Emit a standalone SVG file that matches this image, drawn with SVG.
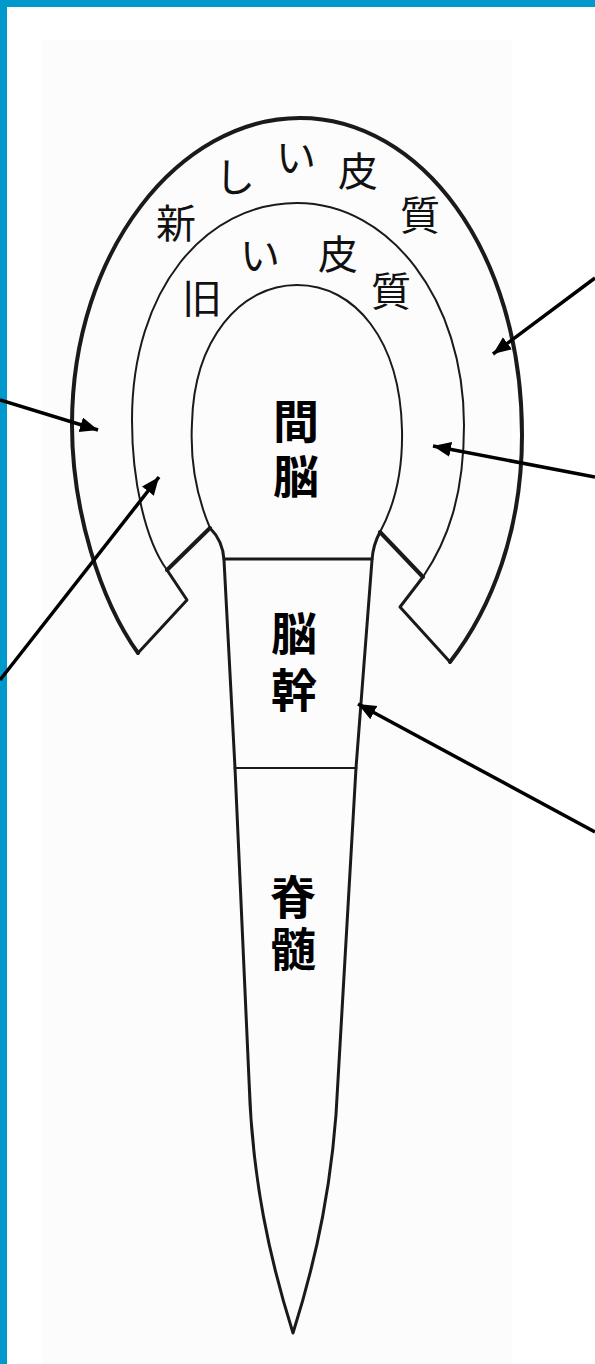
<svg xmlns="http://www.w3.org/2000/svg" width="595" height="1364" viewBox="0 0 595 1364">
<style>
.ol{fill:none;stroke:#1a1a1a;stroke-linejoin:round;stroke-linecap:round}
.thk{stroke-width:4}
.med{stroke-width:3}
.thn{stroke-width:2}
.arr{stroke:#000;stroke-width:3.5;fill:none;marker-end:url(#ah)}
.lab{font-family:"Noto Sans CJK JP","Noto Sans CJK SC",sans-serif;font-size:40px;fill:#111;text-anchor:middle}
.big{font-family:"Noto Sans CJK JP","Noto Sans CJK SC",sans-serif;font-size:46px;font-weight:bold;fill:#000;writing-mode:vertical-rl}
</style>
<defs>
<marker id="ah" markerUnits="userSpaceOnUse" markerWidth="20" markerHeight="16" refX="18" refY="7.5" orient="auto">
<path d="M0,0 L18,7.5 L0,15 z" fill="#000"/>
</marker>
</defs>
<rect x="0" y="0" width="595" height="1364" fill="#ffffff"/>
<rect x="42" y="40" width="470" height="1324" fill="#fcfcfc"/>
<rect x="0" y="0" width="595" height="7" fill="#0099cc"/>
<rect x="0" y="0" width="7" height="1364" fill="#0099cc"/>

<g id="neocortex">
<path class="ol thk" d="M138,653 C100,600 72,510 72,425 C72,250 180,118 300,118 C420,118 522,250 522,435 C522,530 492,608 450,662"/>
<path class="ol med" d="M138,653 L187,600 L167,570"/>
<path class="ol med" d="M450,662 L400,607 L423,577"/>
<text class="lab" x="176" y="238">新</text>
<text class="lab" x="235" y="192">し</text>
<text class="lab" x="296" y="172">い</text>
<text class="lab" x="358" y="186">皮</text>
<text class="lab" x="420" y="230">質</text>
</g>

<g id="paleocortex">
<path class="ol thn" d="M167,570 C145,540 132,480 132,420 C132,290 205,203 297,203 C390,203 464,300 464,425 C464,495 448,540 423,577"/>
<path class="ol thk" d="M167,570 L210,528"/>
<path class="ol thk" d="M423,577 L380,532"/>
<text class="lab" x="202" y="313">旧</text>
<text class="lab" x="260" y="270">い</text>
<text class="lab" x="338" y="269">皮</text>
<text class="lab" x="391" y="306">質</text>
</g>

<g id="diencephalon">
<path class="ol thn" d="M210,528 C196,495 190,460 192,423 C194,340 240,285 297,285 C355,285 400,340 402,430 C403,475 393,508 380,532"/>
<text class="big" x="296" y="398" letter-spacing="9">間脳</text>
</g>

<g id="brainstem">
<path class="ol med" d="M210,528 Q223,541 224,560 L235,768"/>
<path class="ol med" d="M380,532 Q373,545 372,560 L356,768"/>
<line class="ol med" x1="224" y1="559" x2="372" y2="559"/>
<line class="ol thn" x1="235" y1="768" x2="356" y2="768"/>
<text class="big" x="294" y="610" letter-spacing="11">脳幹</text>
</g>

<g id="spinalcord">
<path class="ol med" d="M235,768 L249,1080 C252,1180 270,1260 293,1333 C316,1260 334,1180 338,1080 L356,768"/>
<text class="big" x="293" y="874" letter-spacing="6">脊髄</text>
</g>

<g id="connectors">
<line class="arr" x1="0" y1="400" x2="98" y2="430"/>
<line class="arr" x1="0" y1="680" x2="159" y2="477"/>
<line class="arr" x1="595" y1="278" x2="493" y2="354"/>
<line class="arr" x1="595" y1="477" x2="433" y2="446"/>
<line class="arr" x1="595" y1="832" x2="358" y2="704"/>
</g>
</svg>
